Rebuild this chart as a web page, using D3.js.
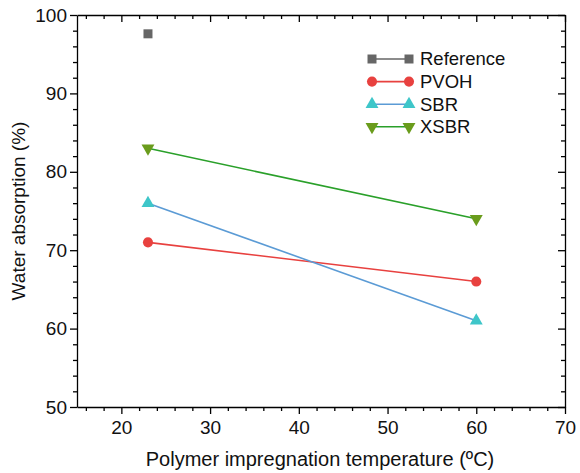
<!DOCTYPE html>
<html>
<head>
<meta charset="utf-8">
<script src="https://cdn.jsdelivr.net/npm/d3@7"></script>
<style>
  body { margin: 0; background: #fff; }
  svg { font-family: "Liberation Sans", Arial, sans-serif; }
</style>
</head>
<body>
<svg id="chart" width="580" height="473"></svg>
<script>
// data
const temperatures = [23, 60]
const referenceValues = [97.6]
const pvohValues = [71, 66]
const sbrValues = [76, 61]
const xsbrValues = [83, 74]
const xTicks = [20, 30, 40, 50, 60, 70]
const yTicks = [50, 60, 70, 80, 90, 100]

const series = [
  { name: "Reference", values: referenceValues, line: "#666666", fill: "#666666", symbol: "square" },
  { name: "PVOH", values: pvohValues, line: "#e8413f", fill: "#e8413f", symbol: "circle" },
  { name: "SBR", values: sbrValues, line: "#5b9bd5", fill: "#3ec6c9", symbol: "up" },
  { name: "XSBR", values: xsbrValues, line: "#2aa02a", fill: "#6a9c1c", symbol: "down" }
]

const svg = d3.select("#chart")
const margin = { left: 77, right: 15, top: 15, bottom: 66 }
const width = 580 - margin.left - margin.right
const height = 473 - margin.top - margin.bottom

const chart = svg.append("g").attr("transform", `translate(${margin.left},${margin.top})`)

const x = d3.scaleLinear().domain([15, 70]).range([0, width])
const y = d3.scaleLinear().domain([50, 100]).range([height, 0])

const xMinor = d3.range(16, 70, 2).filter(v => v % 10 !== 0)
const yMinor = d3.range(52, 100, 2).filter(v => v % 10 !== 0)

function styleAxis(g) {
  g.select(".domain").attr("stroke", "#000").attr("stroke-width", 1.3)
  g.selectAll(".tick line").attr("stroke", "#000").attr("stroke-width", 1.3)
  g.selectAll("text").attr("fill", "#111").style("font-size", "19px")
}

// bottom axis + minor ticks
chart.append("g")
  .attr("transform", `translate(0,${height})`)
  .call(d3.axisBottom(x).tickValues(xTicks).tickSize(7).tickSizeOuter(0).tickPadding(7))
  .call(styleAxis)
chart.append("g")
  .attr("transform", `translate(0,${height})`)
  .call(d3.axisBottom(x).tickValues(xMinor).tickSize(4).tickSizeOuter(0).tickFormat(""))
  .call(g => g.select(".domain").remove())
  .call(styleAxis)

// left axis + minor ticks
chart.append("g")
  .call(d3.axisLeft(y).tickValues(yTicks).tickSize(7).tickSizeOuter(0).tickPadding(3))
  .call(styleAxis)
chart.append("g")
  .call(d3.axisLeft(y).tickValues(yMinor).tickSize(4).tickSizeOuter(0).tickFormat(""))
  .call(g => g.select(".domain").remove())
  .call(styleAxis)

// top axis, ticks inward
chart.append("g")
  .call(d3.axisTop(x).tickValues(xTicks).tickSize(-7).tickSizeOuter(0).tickFormat(""))
  .call(styleAxis)
chart.append("g")
  .call(d3.axisTop(x).tickValues(xMinor).tickSize(-4).tickSizeOuter(0).tickFormat(""))
  .call(g => g.select(".domain").remove())
  .call(styleAxis)

// right axis, ticks inward
chart.append("g")
  .attr("transform", `translate(${width},0)`)
  .call(d3.axisRight(y).tickValues(yTicks).tickSize(-7).tickSizeOuter(0).tickFormat(""))
  .call(styleAxis)
chart.append("g")
  .attr("transform", `translate(${width},0)`)
  .call(d3.axisRight(y).tickValues(yMinor).tickSize(-4).tickSizeOuter(0).tickFormat(""))
  .call(g => g.select(".domain").remove())
  .call(styleAxis)

// axis titles
svg.append("text")
  .attr("x", margin.left + width / 2 - 1)
  .attr("y", 466)
  .attr("text-anchor", "middle")
  .style("font-size", "20px")
  .attr("fill", "#111")
  .text("Polymer impregnation temperature (ºC)")

svg.append("text")
  .attr("transform", `translate(25,${margin.top + height / 2}) rotate(-90)`)
  .attr("text-anchor", "middle")
  .style("font-size", "19px")
  .attr("fill", "#111")
  .text("Water absorption (%)")

function symbolFor(s) {
  if (s.symbol === "square") return d3.symbol(d3.symbolSquare, 81)()
  if (s.symbol === "circle") return d3.symbol(d3.symbolCircle, 80)()
  return d3.symbol(d3.symbolTriangle, 72)()
}
function symbolTransform(s, px, py) {
  if (s.symbol === "down") return `translate(${px},${py}) rotate(180)`
  return `translate(${px},${py})`
}

const line = d3.line().x(d => x(d.t)).y(d => y(d.v))

series.forEach(s => {
  const pts = s.values.map((v, i) => ({ t: temperatures[i], v }))
  if (pts.length > 1) {
    chart.append("path")
      .datum(pts)
      .attr("d", line)
      .attr("fill", "none")
      .attr("stroke", s.line)
      .attr("stroke-width", 1.6)
  }
  chart.selectAll(null)
    .data(pts)
    .enter()
    .append("path")
    .attr("d", symbolFor(s))
    .attr("transform", d => symbolTransform(s, x(d.t), y(d.v)))
    .attr("fill", s.fill)
})

// legend
const legend = svg.append("g").attr("transform", "translate(372,59)")
series.forEach((s, i) => {
  const row = legend.append("g").attr("transform", `translate(0,${i * 22.6})`)
  row.append("line")
    .attr("x1", 0).attr("x2", 37)
    .attr("stroke", s.line).attr("stroke-width", 1.6)
  ;[0, 37].forEach(px => {
    row.append("path")
      .attr("d", symbolFor(s))
      .attr("transform", symbolTransform(s, px, 0))
      .attr("fill", s.fill)
  })
  row.append("text")
    .attr("x", 48)
    .attr("dy", "0.35em")
    .style("font-size", "18.5px")
    .attr("fill", "#111")
    .text(s.name)
})
</script>
</body>
</html>
